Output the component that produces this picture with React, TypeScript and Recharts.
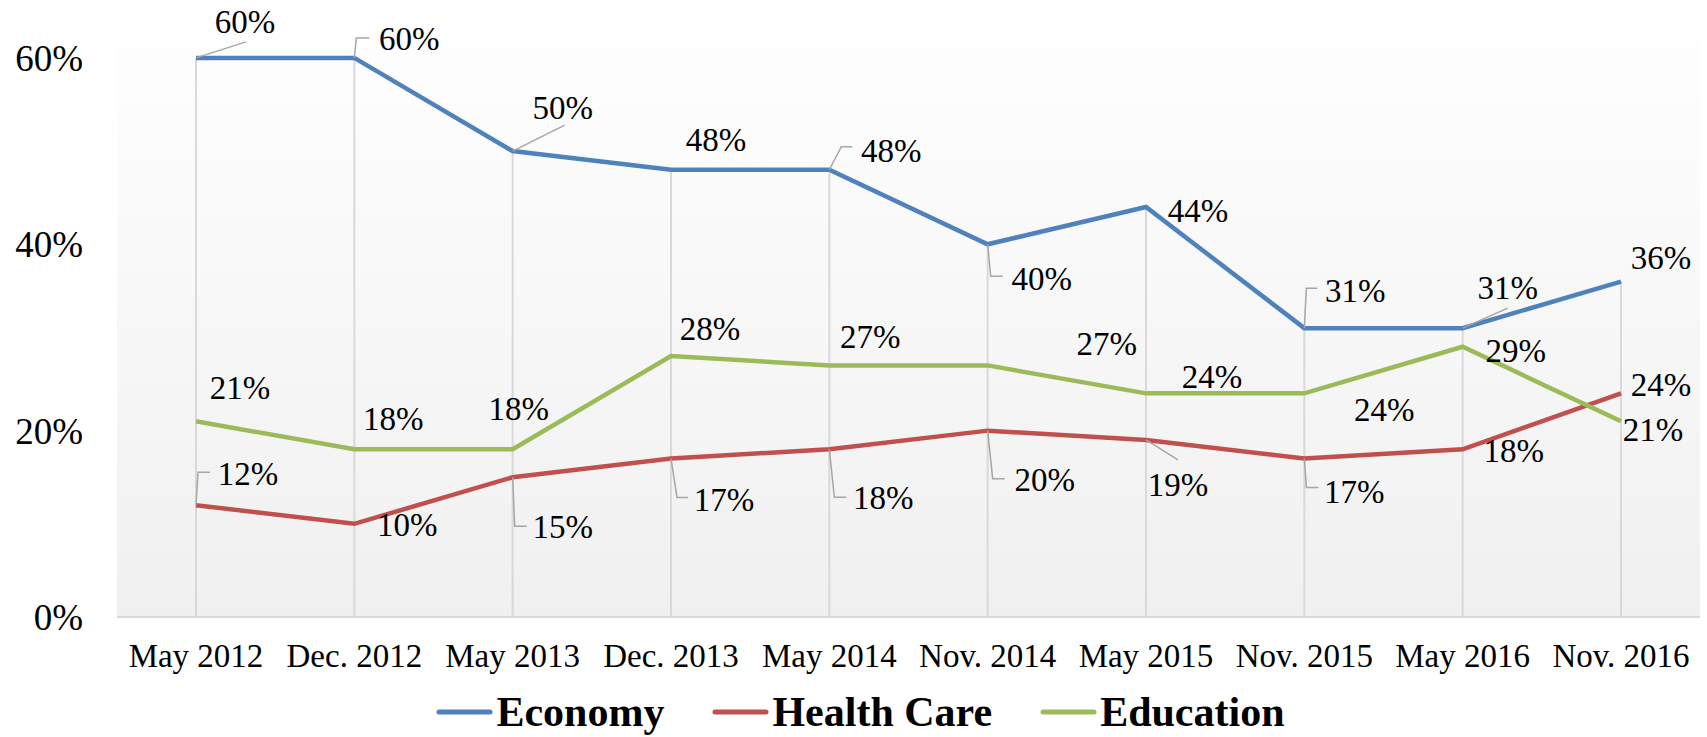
import React from "react";
import { LineChart, Line, XAxis, YAxis, CartesianGrid, Legend, ReferenceLine, LabelList } from "recharts";

const periods = ["May 2012", "Dec. 2012", "May 2013", "Dec. 2013", "May 2014", "Nov. 2014", "May 2015", "Nov. 2015", "May 2016", "Nov. 2016"];
const economy = [60, 60, 50, 48, 48, 40, 44, 31, 31, 36];
const healthCare = [12, 10, 15, 17, 18, 20, 19, 17, 18, 24];
const education = [21, 18, 18, 28, 27, 27, 24, 24, 29, 21];
const seriesNames = ["Economy", "Health Care", "Education"];
const yTicks = [0, 20, 40, 60];

const FONT = '"Liberation Serif", "Times New Roman", serif';
const LEADER = "#a6a6a6";

// where each data label sits relative to its point, and the leader line (if any)
type Place = { dx: number; dy: number; leader?: number[][] };

const economyPlaces: Place[] = [
  { dx: 49, dy: -36, leader: [[0, 0], [50, -16]] },
  { dx: 55, dy: -19, leader: [[0, 0], [2, -20], [15, -20]] },
  { dx: 50, dy: -43, leader: [[0, 0], [52, -26]] },
  { dx: 45, dy: -30 },
  { dx: 62, dy: -19, leader: [[0, 0], [12, -23], [23, -23]] },
  { dx: 54, dy: 35, leader: [[0, 0], [3, 32], [15, 32]] },
  { dx: 52, dy: 4 },
  { dx: 51, dy: -37, leader: [[0, 0], [2, -40], [13, -40]] },
  { dx: 45, dy: -40, leader: [[0, 0], [45, -20]] },
  { dx: 40, dy: -23 },
];

const healthPlaces: Place[] = [
  { dx: 52, dy: -31, leader: [[0, 0], [2, -33], [14, -33]] },
  { dx: 53, dy: 1 },
  { dx: 50, dy: 50, leader: [[0, 0], [2, 49], [14, 49]] },
  { dx: 53, dy: 42, leader: [[0, 0], [6, 39], [17, 39]] },
  { dx: 54, dy: 49, leader: [[0, 0], [5, 48], [17, 48]] },
  { dx: 57, dy: 49, leader: [[0, 0], [5, 48], [17, 48]] },
  { dx: 32, dy: 45, leader: [[0, 0], [32, 20]] },
  { dx: 50, dy: 34, leader: [[0, 0], [2, 29], [14, 29]] },
  { dx: 51, dy: 2 },
  { dx: 40, dy: -8 },
];

const educationPlaces: Place[] = [
  { dx: 44, dy: -33 },
  { dx: 39, dy: -30 },
  { dx: 6, dy: -40 },
  { dx: 39, dy: -27 },
  { dx: 41, dy: -28 },
  { dx: 119, dy: -21 },
  { dx: 66, dy: -16 },
  { dx: 80, dy: 17 },
  { dx: 53, dy: 4 },
  { dx: 32, dy: 9 },
];

const data = periods.map((period, i) => ({
  period,
  economy: economy[i],
  health: healthCare[i],
  education: education[i],
}));

const labelRenderer = (places: Place[]) => (props: any) => {
  const vb = props.viewBox || {};
  const x = props.x ?? vb.x;
  const y = props.y ?? vb.y;
  const p = places[props.index];
  if (x == null || y == null || !p) return null;
  return (
    <g>
      {p.leader && (
        <polyline
          points={p.leader.map(([a, b]) => `${x + a},${y + b}`).join(" ")}
          fill="none"
          stroke={LEADER}
          strokeWidth={1.5}
        />
      )}
      <text
        x={x + p.dx}
        y={y + p.dy}
        dy="0.33em"
        textAnchor="middle"
        fontFamily={FONT}
        fontSize={33}
        fill="#000"
      >
        {props.value}%
      </text>
    </g>
  );
};

const LegendContent = (props: any) => {
  const items = [...(props.payload || [])].sort(
    (a: any, b: any) => seriesNames.indexOf(a.value) - seriesNames.indexOf(b.value)
  );
  return (
    <div
      style={{
        display: "flex",
        justifyContent: "center",
        alignItems: "center",
        height: 46,
        paddingLeft: 14,
        fontFamily: FONT,
        fontWeight: "bold",
        fontSize: 42,
        lineHeight: "46px",
        color: "#000",
      }}
    >
      {items.map((it: any, i: number) => (
        <div key={i} style={{ display: "flex", alignItems: "center", marginLeft: i === 0 ? 0 : 48 }}>
          <svg width={57} height={8} style={{ marginRight: 3 }}>
            <line x1={3} y1={4} x2={54} y2={4} stroke={it.color} strokeWidth={5} strokeLinecap="round" />
          </svg>
          <span>{it.value}</span>
        </div>
      ))}
    </div>
  );
};

export default function App() {
  return (
    <div style={{ position: "absolute", left: 0, top: 0, background: "#fff" }}>
      <LineChart width={1707} height={737} data={data} margin={{ top: 2, right: 7, left: 0, bottom: 0 }}>
        <defs>
          <linearGradient id="plotBg" x1="0" y1="0" x2="0" y2="1">
            <stop offset="0%" stopColor="#ffffff" />
            <stop offset="100%" stopColor="#f0f0f0" />
          </linearGradient>
        </defs>
        <CartesianGrid horizontal={false} vertical={false} fill="url(#plotBg)" />
        <XAxis
          dataKey="period"
          interval={0}
          padding={{ left: 79, right: 79 }}
          tickLine={false}
          tickSize={0}
          tickMargin={27}
          height={70}
          axisLine={{ stroke: "#d9d9d9", strokeWidth: 2 }}
          tick={{ fontSize: 33, fill: "#000", fontFamily: FONT }}
        />
        <YAxis
          domain={[0, 66]}
          ticks={yTicks}
          width={117}
          axisLine={false}
          tickLine={false}
          tickSize={0}
          tickMargin={34}
          tickFormatter={(v: number) => `${v}%`}
          tick={{ fontSize: 37, fill: "#000", fontFamily: FONT }}
        />
        {periods.map((p, i) => (
          <ReferenceLine
            key={p}
            segment={[
              { x: p, y: 0 },
              { x: p, y: Math.max(economy[i], healthCare[i], education[i]) },
            ]}
            stroke="#d9d9d9"
            strokeWidth={2}
          />
        ))}
        <Legend
          verticalAlign="bottom"
          height={50}
          wrapperStyle={{ left: 0, top: 689, width: 1707 }}
          content={<LegendContent />}
        />
        <Line type="linear" dataKey="economy" name={seriesNames[0]} stroke="#4f81bd" strokeWidth={4.5} dot={false} activeDot={false} isAnimationActive={false}>
          <LabelList dataKey="economy" content={labelRenderer(economyPlaces)} />
        </Line>
        <Line type="linear" dataKey="health" name={seriesNames[1]} stroke="#c0504d" strokeWidth={4.5} dot={false} activeDot={false} isAnimationActive={false}>
          <LabelList dataKey="health" content={labelRenderer(healthPlaces)} />
        </Line>
        <Line type="linear" dataKey="education" name={seriesNames[2]} stroke="#9bbb59" strokeWidth={4.5} dot={false} activeDot={false} isAnimationActive={false}>
          <LabelList dataKey="education" content={labelRenderer(educationPlaces)} />
        </Line>
      </LineChart>
    </div>
  );
}
